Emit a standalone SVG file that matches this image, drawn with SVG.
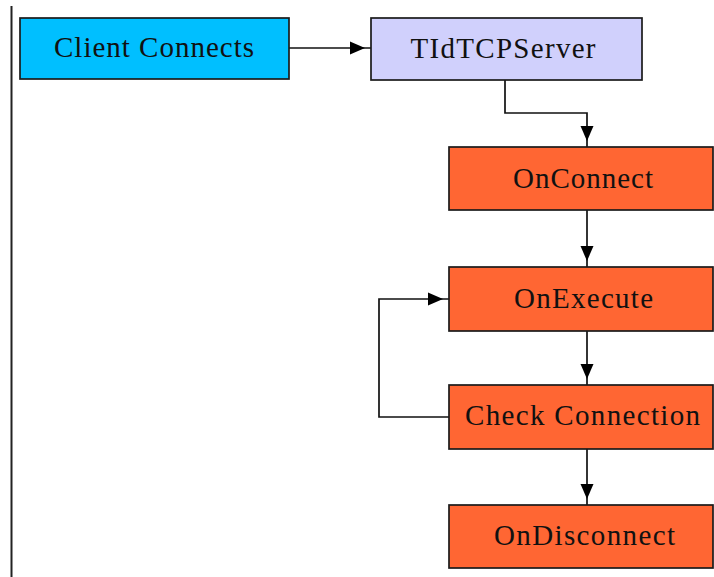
<svg xmlns="http://www.w3.org/2000/svg" width="714" height="577" viewBox="0 0 714 577">
  <style>
    .box { stroke: #1a1a1a; stroke-width: 1.7; }
    .client { fill: #00BFFF; }
    .server { fill: #D0D0FC; }
    .event { fill: #FF6633; }
    .label { font-family: "Liberation Serif", "Times New Roman", serif; font-size: 29px; fill: #111; text-anchor: middle; }
    .edge { fill: none; stroke: #111; stroke-width: 1.7; }
  </style>
  <defs>
    <marker id="head" markerUnits="userSpaceOnUse" markerWidth="26" markerHeight="16" viewBox="0 0 26 16" refX="21" refY="8" orient="auto">
      <path d="M0,1.5 L15,8 L0,14.5 Z" fill="#000"/>
    </marker>
  </defs>

  <rect width="714" height="577" fill="#fff"/>
  <!-- left margin rule -->
  <line x1="11.5" y1="6" x2="11.5" y2="577" stroke="#222" stroke-width="2"/>

  <g id="connectors">
    <path class="edge" d="M289,48 H371" marker-end="url(#head)"/>
    <path class="edge" d="M505,80 V113 H587 V147" marker-end="url(#head)"/>
    <path class="edge" d="M587,210 V267" marker-end="url(#head)"/>
    <path class="edge" d="M587,331 V385" marker-end="url(#head)"/>
    <path class="edge" d="M587,449 V505" marker-end="url(#head)"/>
    <path class="edge" d="M449,417 H379 V299 H449" marker-end="url(#head)"/>
  </g>

  <g id="client-connects">
    <rect class="box client" x="20" y="18" width="269" height="61"/>
    <text class="label" x="154" y="57" textLength="200">Client Connects</text>
  </g>
  <g id="tidtcpserver">
    <rect class="box server" x="371" y="18" width="271" height="62"/>
    <text class="label" x="503" y="58" textLength="185">TIdTCPServer</text>
  </g>
  <g id="onconnect">
    <rect class="box event" x="449" y="147" width="264" height="63"/>
    <text class="label" x="583" y="188" textLength="140">OnConnect</text>
  </g>
  <g id="onexecute">
    <rect class="box event" x="449" y="267" width="264" height="64"/>
    <text class="label" x="583.5" y="308" textLength="139">OnExecute</text>
  </g>
  <g id="check-connection">
    <rect class="box event" x="449" y="385" width="264" height="64"/>
    <text class="label" x="582.5" y="425" textLength="235">Check Connection</text>
  </g>
  <g id="ondisconnect">
    <rect class="box event" x="449" y="505" width="264" height="63"/>
    <text class="label" x="584.5" y="545" textLength="181">OnDisconnect</text>
  </g>
</svg>
